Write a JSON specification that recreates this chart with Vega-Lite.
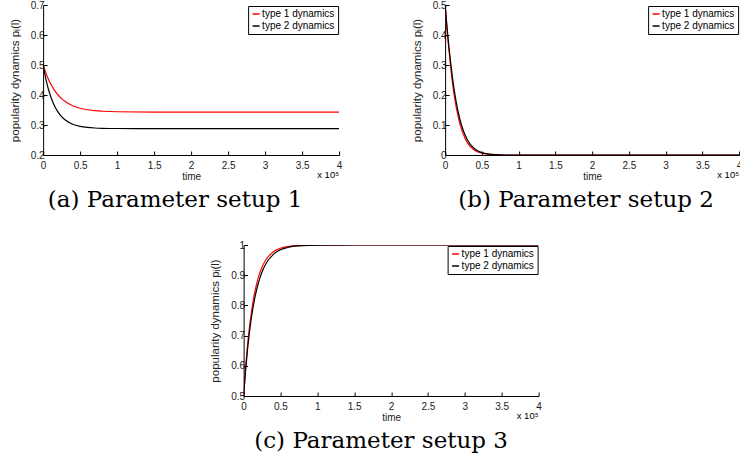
{
  "$schema": "https://vega.github.io/schema/vega-lite/v6.json",
  "background": "white",
  "padding": {"left": 9, "top": 0, "right": 0, "bottom": 0},
  "data": {"values": [
    {"p":"a","s":"type 1 dynamics","t":0,"v":0.5},
    {"p":"a","s":"type 1 dynamics","t":2500,"v":0.4816},
    {"p":"a","s":"type 1 dynamics","t":5000,"v":0.4653},
    {"p":"a","s":"type 1 dynamics","t":7500,"v":0.4509},
    {"p":"a","s":"type 1 dynamics","t":10000,"v":0.4382},
    {"p":"a","s":"type 1 dynamics","t":15000,"v":0.4172},
    {"p":"a","s":"type 1 dynamics","t":20000,"v":0.4008},
    {"p":"a","s":"type 1 dynamics","t":25000,"v":0.388},
    {"p":"a","s":"type 1 dynamics","t":30000,"v":0.378},
    {"p":"a","s":"type 1 dynamics","t":40000,"v":0.3642},
    {"p":"a","s":"type 1 dynamics","t":50000,"v":0.3559},
    {"p":"a","s":"type 1 dynamics","t":60000,"v":0.3508},
    {"p":"a","s":"type 1 dynamics","t":70000,"v":0.3477},
    {"p":"a","s":"type 1 dynamics","t":80000,"v":0.3459},
    {"p":"a","s":"type 1 dynamics","t":100000,"v":0.3441},
    {"p":"a","s":"type 1 dynamics","t":150000,"v":0.343},
    {"p":"a","s":"type 1 dynamics","t":400000,"v":0.343},
    {"p":"a","s":"type 2 dynamics","t":0,"v":0.5},
    {"p":"a","s":"type 2 dynamics","t":2500,"v":0.4674},
    {"p":"a","s":"type 2 dynamics","t":5000,"v":0.4399},
    {"p":"a","s":"type 2 dynamics","t":7500,"v":0.4166},
    {"p":"a","s":"type 2 dynamics","t":10000,"v":0.3968},
    {"p":"a","s":"type 2 dynamics","t":15000,"v":0.366},
    {"p":"a","s":"type 2 dynamics","t":20000,"v":0.3439},
    {"p":"a","s":"type 2 dynamics","t":25000,"v":0.328},
    {"p":"a","s":"type 2 dynamics","t":30000,"v":0.3167},
    {"p":"a","s":"type 2 dynamics","t":40000,"v":0.3027},
    {"p":"a","s":"type 2 dynamics","t":50000,"v":0.2956},
    {"p":"a","s":"type 2 dynamics","t":60000,"v":0.2919},
    {"p":"a","s":"type 2 dynamics","t":70000,"v":0.29},
    {"p":"a","s":"type 2 dynamics","t":80000,"v":0.289},
    {"p":"a","s":"type 2 dynamics","t":100000,"v":0.2883},
    {"p":"a","s":"type 2 dynamics","t":150000,"v":0.288},
    {"p":"a","s":"type 2 dynamics","t":400000,"v":0.288},
    {"p":"b","s":"type 1 dynamics","t":0,"v":0.5},
    {"p":"b","s":"type 1 dynamics","t":2500,"v":0.42},
    {"p":"b","s":"type 1 dynamics","t":5000,"v":0.355},
    {"p":"b","s":"type 1 dynamics","t":7500,"v":0.295},
    {"p":"b","s":"type 1 dynamics","t":10000,"v":0.24},
    {"p":"b","s":"type 1 dynamics","t":15000,"v":0.16},
    {"p":"b","s":"type 1 dynamics","t":20000,"v":0.105},
    {"p":"b","s":"type 1 dynamics","t":25000,"v":0.068},
    {"p":"b","s":"type 1 dynamics","t":30000,"v":0.042},
    {"p":"b","s":"type 1 dynamics","t":40000,"v":0.016},
    {"p":"b","s":"type 1 dynamics","t":50000,"v":0.006},
    {"p":"b","s":"type 1 dynamics","t":60000,"v":0.002},
    {"p":"b","s":"type 1 dynamics","t":70000,"v":0.0005},
    {"p":"b","s":"type 1 dynamics","t":80000,"v":0},
    {"p":"b","s":"type 1 dynamics","t":400000,"v":0},
    {"p":"b","s":"type 2 dynamics","t":0,"v":0.5},
    {"p":"b","s":"type 2 dynamics","t":2500,"v":0.43},
    {"p":"b","s":"type 2 dynamics","t":5000,"v":0.365},
    {"p":"b","s":"type 2 dynamics","t":7500,"v":0.31},
    {"p":"b","s":"type 2 dynamics","t":10000,"v":0.258},
    {"p":"b","s":"type 2 dynamics","t":15000,"v":0.178},
    {"p":"b","s":"type 2 dynamics","t":20000,"v":0.12},
    {"p":"b","s":"type 2 dynamics","t":25000,"v":0.08},
    {"p":"b","s":"type 2 dynamics","t":30000,"v":0.052},
    {"p":"b","s":"type 2 dynamics","t":40000,"v":0.021},
    {"p":"b","s":"type 2 dynamics","t":50000,"v":0.008},
    {"p":"b","s":"type 2 dynamics","t":60000,"v":0.003},
    {"p":"b","s":"type 2 dynamics","t":70000,"v":0.001},
    {"p":"b","s":"type 2 dynamics","t":80000,"v":0},
    {"p":"b","s":"type 2 dynamics","t":400000,"v":0},
    {"p":"c","s":"type 1 dynamics","t":0,"v":0.5},
    {"p":"c","s":"type 1 dynamics","t":2500,"v":0.5875},
    {"p":"c","s":"type 1 dynamics","t":5000,"v":0.6597},
    {"p":"c","s":"type 1 dynamics","t":7500,"v":0.7192},
    {"p":"c","s":"type 1 dynamics","t":10000,"v":0.7683},
    {"p":"c","s":"type 1 dynamics","t":15000,"v":0.8423},
    {"p":"c","s":"type 1 dynamics","t":20000,"v":0.8927},
    {"p":"c","s":"type 1 dynamics","t":25000,"v":0.9269},
    {"p":"c","s":"type 1 dynamics","t":30000,"v":0.9502},
    {"p":"c","s":"type 1 dynamics","t":40000,"v":0.9769},
    {"p":"c","s":"type 1 dynamics","t":50000,"v":0.9893},
    {"p":"c","s":"type 1 dynamics","t":60000,"v":0.995},
    {"p":"c","s":"type 1 dynamics","t":70000,"v":0.9977},
    {"p":"c","s":"type 1 dynamics","t":80000,"v":0.9989},
    {"p":"c","s":"type 1 dynamics","t":100000,"v":0.9998},
    {"p":"c","s":"type 1 dynamics","t":150000,"v":1},
    {"p":"c","s":"type 1 dynamics","t":400000,"v":1},
    {"p":"c","s":"type 2 dynamics","t":0,"v":0.5},
    {"p":"c","s":"type 2 dynamics","t":2500,"v":0.5792},
    {"p":"c","s":"type 2 dynamics","t":5000,"v":0.6459},
    {"p":"c","s":"type 2 dynamics","t":7500,"v":0.702},
    {"p":"c","s":"type 2 dynamics","t":10000,"v":0.7492},
    {"p":"c","s":"type 2 dynamics","t":15000,"v":0.8223},
    {"p":"c","s":"type 2 dynamics","t":20000,"v":0.8741},
    {"p":"c","s":"type 2 dynamics","t":25000,"v":0.9108},
    {"p":"c","s":"type 2 dynamics","t":30000,"v":0.9369},
    {"p":"c","s":"type 2 dynamics","t":40000,"v":0.9683},
    {"p":"c","s":"type 2 dynamics","t":50000,"v":0.9841},
    {"p":"c","s":"type 2 dynamics","t":60000,"v":0.992},
    {"p":"c","s":"type 2 dynamics","t":70000,"v":0.996},
    {"p":"c","s":"type 2 dynamics","t":80000,"v":0.998},
    {"p":"c","s":"type 2 dynamics","t":100000,"v":0.9995},
    {"p":"c","s":"type 2 dynamics","t":150000,"v":1},
    {"p":"c","s":"type 2 dynamics","t":400000,"v":1}
  ]},
  "center": true,
  "spacing": 28,
  "resolve": {"scale": {"color": "independent", "x": "independent", "y": "independent"}, "legend": {"color": "independent"}, "axis": {"x": "independent", "y": "independent"}},
  "vconcat": [
    {
      "bounds": "flush",
      "spacing": 106,
      "resolve": {"scale": {"color": "independent", "x": "independent", "y": "independent"}, "legend": {"color": "independent"}, "axis": {"x": "independent", "y": "independent"}},
      "hconcat": [
        {
          "width": 296, "height": 150,
          "title": {"text": "(a) Parameter setup 1", "orient": "bottom", "dx": -16, "offset": 8},
          "layer": [
            {
              "transform": [{"filter": "datum.p === 'a'"}],
              "mark": {"type": "line", "strokeWidth": 1.2, "interpolate": "monotone", "clip": true},
              "encoding": {
                "x": {"field": "t", "type": "quantitative", "scale": {"domain": [0, 400000], "nice": false},
                      "axis": {"values": [0,50000,100000,150000,200000,250000,300000,350000,400000], "tickCount": 20, "labelExpr": "datum.value / 100000 + ''", "labelOverlap": false, "title": "time"}},
                "y": {"field": "v", "type": "quantitative", "scale": {"domain": [0.2, 0.7], "nice": false, "zero": false},
                      "axis": {"values": [0.2,0.3,0.4,0.5,0.6,0.7], "tickCount": 20, "format": "~g", "labelOverlap": false, "title": "popularity dynamics pᵢ(l)"}},
                "color": {"field": "s", "type": "nominal", "scale": {"domain": ["type 1 dynamics", "type 2 dynamics"], "range": ["#ff0000", "#000000"]}, "legend": {"title": null}}
              }
            },
            {
              "data": {"values": [{"lab": "x 10⁵"}]},
              "mark": {"type": "text", "align": "right", "baseline": "middle", "dy": 20, "fontSize": 9.5, "font": "Liberation Sans", "color": "#000"},
              "encoding": {"x": {"datum": 400000}, "y": {"datum": 0.2}, "text": {"field": "lab"}}
            }
          ]
        },
        {
          "width": 294, "height": 150,
          "title": {"text": "(b) Parameter setup 2", "orient": "bottom", "dx": -6, "offset": 8},
          "layer": [
            {
              "transform": [{"filter": "datum.p === 'b'"}],
              "mark": {"type": "line", "strokeWidth": 1.2, "interpolate": "monotone", "clip": true},
              "encoding": {
                "x": {"field": "t", "type": "quantitative", "scale": {"domain": [0, 400000], "nice": false},
                      "axis": {"values": [0,50000,100000,150000,200000,250000,300000,350000,400000], "tickCount": 20, "labelExpr": "datum.value / 100000 + ''", "labelOverlap": false, "title": "time"}},
                "y": {"field": "v", "type": "quantitative", "scale": {"domain": [0, 0.5], "nice": false},
                      "axis": {"values": [0,0.1,0.2,0.3,0.4,0.5], "tickCount": 20, "format": "~g", "labelOverlap": false, "title": "popularity dynamics pᵢ(l)"}},
                "color": {"field": "s", "type": "nominal", "scale": {"domain": ["type 1 dynamics", "type 2 dynamics"], "range": ["#ff0000", "#000000"]}, "legend": {"title": null}}
              }
            },
            {
              "data": {"values": [{"lab": "x 10⁵"}]},
              "mark": {"type": "text", "align": "right", "baseline": "middle", "dy": 20, "fontSize": 9.5, "font": "Liberation Sans", "color": "#000"},
              "encoding": {"x": {"datum": 400000}, "y": {"datum": 0}, "text": {"field": "lab"}}
            }
          ]
        }
      ]
    },
    {
      "width": 295, "height": 151,
      "title": {"text": "(c) Parameter setup 3", "orient": "bottom", "dx": -10, "offset": 8},
      "layer": [
        {
          "transform": [{"filter": "datum.p === 'c'"}],
          "mark": {"type": "line", "strokeWidth": 1.2, "interpolate": "monotone", "clip": true},
          "encoding": {
            "x": {"field": "t", "type": "quantitative", "scale": {"domain": [0, 400000], "nice": false},
                  "axis": {"values": [0,50000,100000,150000,200000,250000,300000,350000,400000], "tickCount": 20, "labelExpr": "datum.value / 100000 + ''", "labelOverlap": false, "title": "time"}},
            "y": {"field": "v", "type": "quantitative", "scale": {"domain": [0.5, 1], "nice": false, "zero": false},
                  "axis": {"values": [0.5,0.6,0.7,0.8,0.9,1], "tickCount": 20, "format": "~g", "labelOverlap": false, "title": "popularity dynamics pᵢ(l)"}},
            "color": {"field": "s", "type": "nominal", "scale": {"domain": ["type 1 dynamics", "type 2 dynamics"], "range": ["#ff0000", "#000000"]}, "legend": {"title": null}}
          }
        },
        {
          "data": {"values": [{"lab": "x 10⁵"}]},
          "mark": {"type": "text", "align": "right", "baseline": "middle", "dy": 20, "fontSize": 9.5, "font": "Liberation Sans", "color": "#000"},
          "encoding": {"x": {"datum": 400000}, "y": {"datum": 0.5}, "text": {"field": "lab"}}
        }
      ]
    }
  ],
  "config": {
    "view": {"stroke": null},
    "axis": {"domainColor": "#000", "domainWidth": 1, "tickColor": "#000", "tickSize": -4, "labelPadding": 3, "grid": false,
             "labelFont": "Liberation Sans", "labelFontSize": 10, "labelColor": "#222",
             "titleFont": "Liberation Sans", "titleFontSize": 10, "titleFontWeight": "normal", "titleColor": "#222"},
    "axisX": {"labelAngle": 0, "titlePadding": 1, "labelPadding": 9, "labelFlush": false},
    "axisY": {"titlePadding": 10, "titleFontSize": 11.5},
    "legend": {"orient": "top-right", "offset": 1, "strokeColor": "#000", "fillColor": "#fff", "padding": 3,
               "symbolType": "stroke", "symbolSize": 49, "symbolStrokeWidth": 1.5, "labelFont": "Liberation Sans",
               "labelFontSize": 10, "labelColor": "#000", "rowPadding": 2, "labelOffset": 1},
    "title": {"font": "DejaVu Serif", "fontSize": 23, "fontWeight": "normal", "color": "#000"}
  }
}
